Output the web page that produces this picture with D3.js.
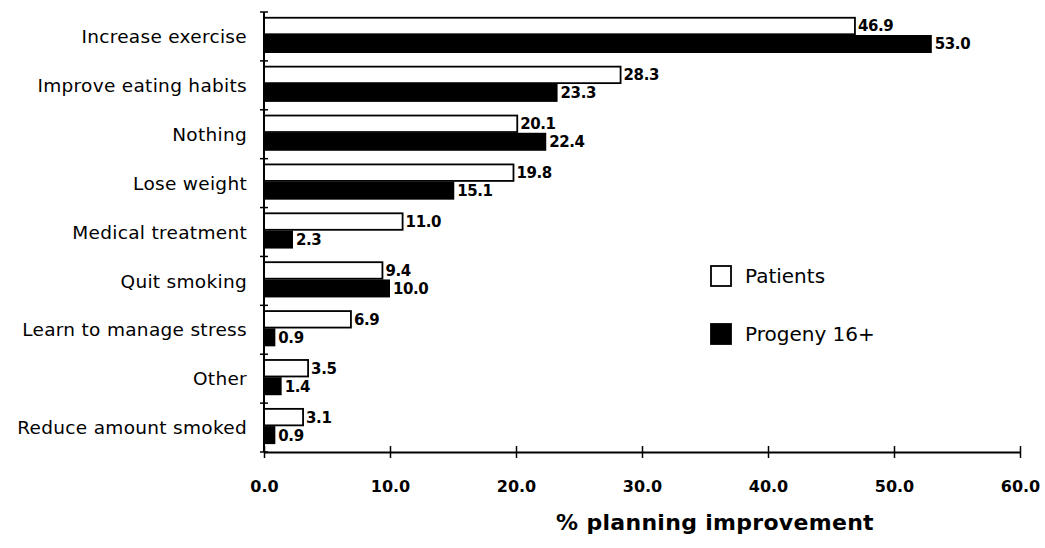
<!DOCTYPE html>
<html>
<head>
<meta charset="utf-8">
<script src="https://d3js.org/d3.v7.min.js"></script>
<style>
  body { margin: 0; background: #fff; }
  text { font-family: "DejaVu Sans", sans-serif; fill: #000; }
</style>
</head>
<body>
<svg id="chart" width="1045" height="548"></svg>
<script>
// categories, top to bottom
const categories = ["Increase exercise", "Improve eating habits", "Nothing", "Lose weight",
  "Medical treatment", "Quit smoking", "Learn to manage stress", "Other", "Reduce amount smoked"];
const patients = [46.9, 28.3, 20.1, 19.8, 11.0, 9.4, 6.9, 3.5, 3.1];
const progeny  = [53.0, 23.3, 22.4, 15.1, 2.3, 10.0, 0.9, 1.4, 0.9];
const xTicks = [0, 10, 20, 30, 40, 50, 60];
const seriesNames = ["Patients", "Progeny 16+"];

const svg = d3.select("#chart");
const x = d3.scaleLinear().domain([0, 60]).range([264, 1020]);
const y = d3.scaleBand().domain(categories).range([12, 452]);
const inner = d3.scaleBand().domain(["p", "g"]).range([5, 41]);

const g = svg.append("g");

// bars
categories.forEach((c, i) => {
  const rows = [{k: "p", v: patients[i]}, {k: "g", v: progeny[i]}];
  rows.forEach(r => {
    const y0 = y(c) + inner(r.k);
    g.append("rect")
      .attr("x", x(0))
      .attr("y", y0 + (r.k == "p" ? 0.75 : 0))
      .attr("width", x(r.v) - x(0))
      .attr("height", inner.bandwidth() - (r.k == "p" ? 1.5 : 0))
      .attr("fill", r.k == "p" ? "#fff" : "#000")
      .attr("stroke", "#000")
      .attr("stroke-width", r.k == "p" ? 1.8 : 0);
    g.append("text")
      .attr("x", x(r.v) + 3)
      .attr("y", y0 + inner.bandwidth() / 2)
      .attr("dy", "0.36em")
      .attr("font-size", 15)
      .attr("font-weight", "bold")
      .attr("letter-spacing", -0.4)
      .text(r.v.toFixed(1));
  });
  g.append("text")
    .attr("x", 247)
    .attr("y", y(c) + y.bandwidth() / 2)
    .attr("dy", "0.36em")
    .attr("text-anchor", "end")
    .attr("font-size", 18.5)
    .attr("letter-spacing", 0.3)
    .text(c);
});

// y axis with crossing ticks at band edges
const yEdges = categories.map(c => y(c)).concat([452]);
g.append("line").attr("x1", x(0)).attr("x2", x(0)).attr("y1", 12).attr("y2", 452)
  .attr("stroke", "#000").attr("stroke-width", 2);
g.selectAll("line.yt").data(yEdges).join("line").attr("class", "yt")
  .attr("x1", x(0) - 4).attr("x2", x(0) + 4).attr("y1", d => d).attr("y2", d => d)
  .attr("stroke", "#000").attr("stroke-width", 1.5);

// x axis
const xAxis = d3.axisBottom(x).tickValues(xTicks).tickSize(0).tickFormat(d3.format(".1f"));
const ax = g.append("g").attr("transform", "translate(0,452)").call(xAxis);
ax.select(".domain").attr("stroke-width", 2);
ax.selectAll(".tick line").attr("y1", -6).attr("y2", 6).attr("stroke-width", 1.5);
ax.selectAll(".tick text").attr("y", 29).attr("font-size", 16).attr("font-weight", "bold")
  .attr("font-family", "DejaVu Sans, sans-serif").attr("fill", "#000");

g.append("text")
  .attr("x", 715)
  .attr("y", 530)
  .attr("text-anchor", "middle")
  .attr("font-size", 22)
  .attr("font-weight", "bold")
  .attr("letter-spacing", 0.3)
  .text("% planning improvement");

// legend
const leg = g.append("g").attr("transform", "translate(710,265)");
seriesNames.forEach((s, i) => {
  leg.append("rect").attr("x", 1).attr("y", i * 58 + 1).attr("width", 20).attr("height", 20)
    .attr("fill", i == 0 ? "#fff" : "#000").attr("stroke", "#000").attr("stroke-width", 1.8);
  leg.append("text").attr("x", 35).attr("y", i * 58 + 11).attr("dy", "0.36em")
    .attr("font-size", 20).text(s);
});
</script>
</body>
</html>
